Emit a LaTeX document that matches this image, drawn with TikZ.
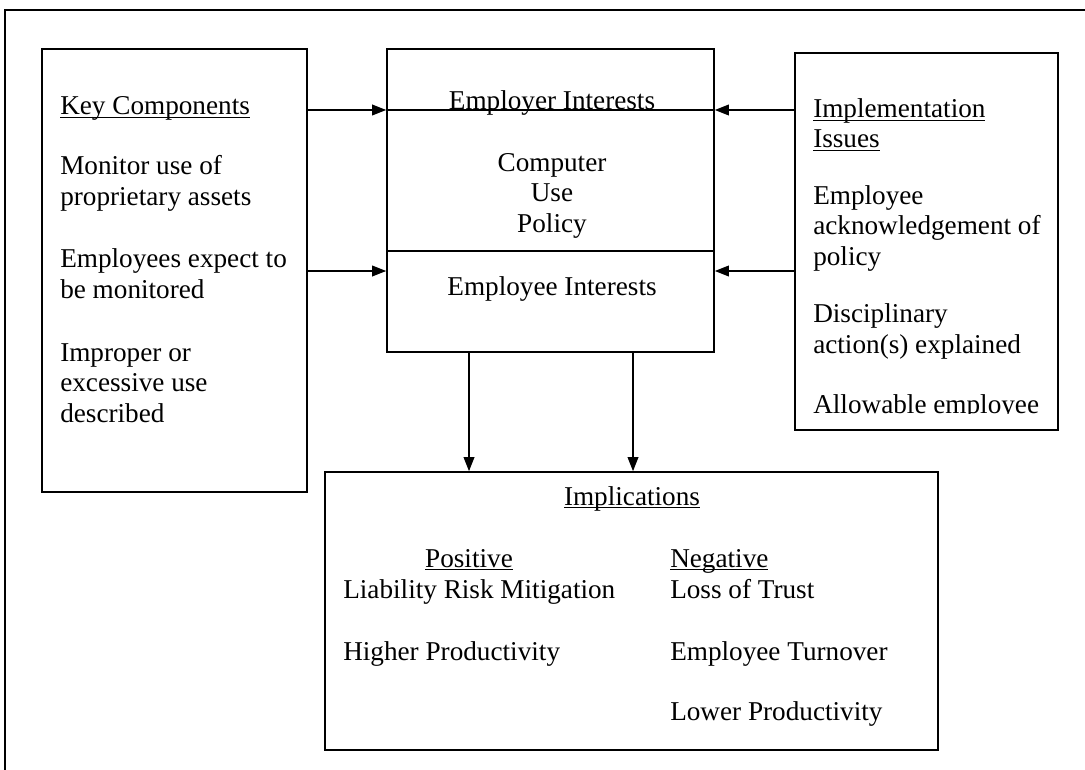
\documentclass[tikz,border=0pt]{standalone}
\usepackage{fontspec}
\setmainfont{Liberation Serif}
\usetikzlibrary{arrows.meta,fit}
\newcommand\ulword[1]{\setbox0\hbox{#1}\rlap{\rule[-2.4pt]{\wd0}{0.75pt}}\box0}
\tikzset{
  box/.style={draw, line width=1.2pt, inner sep=0pt},
  txt/.style={anchor=base west, align=left, inner sep=0pt, font=\fontsize{20.4}{22.6}\selectfont},
  ctxt/.style={txt, anchor=base, align=center},
  arr/.style={-{Triangle[length=10.5pt,width=8pt]}, line width=1pt},
}
\begin{document}
\begin{tikzpicture}[x=0.75pt,y=-0.75pt]
    \useasboundingbox (0,0) rectangle (1085,770);
    % outer frame
    \draw[line width=0.8pt] (5,770) -- (5,10) -- (1085,10);

    \node[box, fit={(42,49) (307,492)}] (keys) {};
    \node[box, fit={(387,49) (714,352)}] (policy) {};
    \node[box, fit={(795,53) (1058,430)}] (issues) {};
    \node[box, fit={(325,472) (938,750)}] (impl) {};

    \coordinate (a1) at (0,110);
    \coordinate (a2) at (0,271);
    \coordinate (d0) at (0,251);
    \coordinate (b1) at (469,0);
    \coordinate (b2) at (633,0);

    % key components (base = last line)
    \node[txt] (kc) at (60,115) {\ulword{Key Components}};
    \node[txt] (k1) at (60,205) {Monitor use of\\proprietary assets};
    \node[txt] (k2) at (60,298) {Employees expect to\\be monitored};
    \node[txt] (k3) at (60,422) {Improper or\\excessive use\\described};

    % policy
    \node[ctxt] (er) at (552,110) {Employer Interests};
    \node[ctxt] (cup) at (552,232) {Computer\\Use\\Policy};
    \node[ctxt] (ee) at (552,295) {Employee Interests};
    \draw[line width=1.2pt] (policy.west |- a1) -- (policy.east |- a1);
    \draw[line width=1.2pt] (policy.west |- d0) -- (policy.east |- d0);

    % implementation issues
    \node[txt] (ii) at (813,148) {\ulword{Implementation}\\\ulword{Issues}};
    \node[txt] (i1) at (813,265) {Employee\\acknowledgement of\\policy};
    \node[txt] (i2) at (813,353) {Disciplinary\\action(s) explained};
    \begin{scope}
        \clip (795,380) rectangle (1058,413);
        \node[txt] (i3) at (813,413) {Allowable employee};
    \end{scope}

    % implications
    \node[ctxt] (im) at (632,505) {\ulword{Implications}};
    \node[ctxt] (pos) at (469,567) {\ulword{Positive}};
    \node[txt] (p1) at (343,598) {Liability Risk Mitigation};
    \node[txt] (p2) at (343,660) {Higher Productivity};
    \node[txt] (neg) at (670,567) {\ulword{Negative}};
    \node[txt] (n1) at (670,598) {Loss of Trust};
    \node[txt] (n2) at (670,660) {Employee Turnover};
    \node[txt] (n3) at (670,720) {Lower Productivity};

    \draw[arr] (keys.east |- a1) -- (policy.west |- a1);
    \draw[arr] (keys.east |- a2) -- (policy.west |- a2);
    \draw[arr] (issues.west |- a1) -- (policy.east |- a1);
    \draw[arr] (issues.west |- a2) -- (policy.east |- a2);
    \draw[arr] (policy.south -| b1) -- (impl.north -| b1);
    \draw[arr] (policy.south -| b2) -- (impl.north -| b2);
\end{tikzpicture}
\end{document}
